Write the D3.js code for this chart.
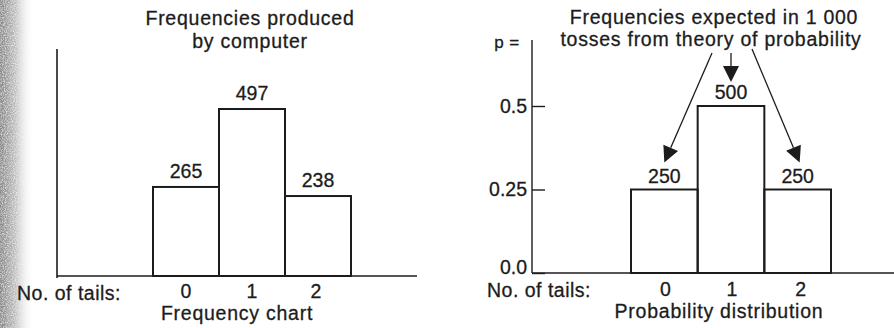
<!DOCTYPE html>
<html>
<head>
<meta charset="utf-8">
<script src="https://cdn.jsdelivr.net/npm/d3@7"></script>
<style>
  html, body { margin: 0; padding: 0; background: #fff; }
  svg { display: block; }
  text { font-family: "Liberation Sans", Arial, sans-serif; fill: #1c1c1c; stroke: #1c1c1c; stroke-width: 0.3px; }
</style>
</head>
<body>
<svg id="chart" width="894" height="328"></svg>
<script>
// Number of tails in two coin tosses
const categories = [0, 1, 2];
// Counts produced by a computer simulation of 1 000 double tosses
const computerFreq = [265, 497, 238];
// Counts expected from probability theory in 1 000 double tosses
const expectedFreq = [250, 500, 250];
const totalTosses = 1000;
// Probability axis ticks and their labels
const probTicks = [0, 0.25, 0.5];
const probTickLabels = ["0.0", "0.25", "0.5"];

const ink = "#1c1c1c";
const fontSize = 19.5;
const svg = d3.select("#chart");

// Worn page edge on the left
const defs = svg.append("defs");
const grad = defs.append("linearGradient").attr("id", "edge").attr("x1", 0).attr("x2", 1);
grad.append("stop").attr("offset", "0%").attr("stop-color", "#858585");
grad.append("stop").attr("offset", "45%").attr("stop-color", "#c0c0c0");
grad.append("stop").attr("offset", "100%").attr("stop-color", "#fff").attr("stop-opacity", 0);
const noise = defs.append("filter").attr("id", "grain");
noise.append("feTurbulence").attr("type", "fractalNoise").attr("baseFrequency", 0.9).attr("numOctaves", 2).attr("result", "n");
noise.append("feColorMatrix").attr("in", "n").attr("type", "matrix")
  .attr("values", "0 0 0 0 1  0 0 0 0 1  0 0 0 0 1  0 0 0 1.4 -0.55").attr("result", "w");
noise.append("feComposite").attr("in", "w").attr("in2", "SourceGraphic").attr("operator", "in").attr("result", "wm");
noise.append("feMerge").call(m => { m.append("feMergeNode").attr("in", "SourceGraphic"); m.append("feMergeNode").attr("in", "wm"); });
svg.append("rect").attr("x", 0).attr("y", 0).attr("width", 34).attr("height", 328)
  .attr("fill", "url(#edge)").attr("filter", "url(#grain)");

function labelText(g, x, y, txt, opts = {}) {
  return g.append("text")
    .attr("x", x).attr("y", y)
    .attr("text-anchor", opts.anchor || "middle")
    .attr("font-size", opts.size || fontSize)
    .attr("letter-spacing", opts.spacing != null ? opts.spacing : 0.75)
    .text(txt);
}

// ---------- Left panel: frequency chart ----------
const left = svg.append("g");
const xL = d3.scaleBand().domain(categories).range([153, 351]).padding(0);
const yL = d3.scaleLinear().domain([0, 500]).range([276, 108]);

left.append("line").attr("x1", 57).attr("x2", 57).attr("y1", 49).attr("y2", 278)
  .attr("stroke", ink).attr("stroke-width", 1.6);
left.append("line").attr("x1", 57).attr("x2", 417).attr("y1", yL(0)).attr("y2", yL(0))
  .attr("stroke", ink).attr("stroke-width", 1.6);

left.selectAll("rect.bar").data(categories).join("rect")
  .attr("class", "bar")
  .attr("x", d => xL(d)).attr("width", xL.bandwidth())
  .attr("y", (d, i) => yL(computerFreq[i]))
  .attr("height", (d, i) => yL(0) - yL(computerFreq[i]))
  .attr("fill", "none").attr("stroke", ink).attr("stroke-width", 2);

left.selectAll("text.val").data(categories).join("text")
  .attr("class", "val")
  .attr("x", d => xL(d) + xL.bandwidth() / 2)
  .attr("y", (d, i) => yL(computerFreq[i]) - 9)
  .attr("text-anchor", "middle").attr("font-size", fontSize)
  .text((d, i) => computerFreq[i]);

left.selectAll("text.cat").data(categories).join("text")
  .attr("class", "cat")
  .attr("x", d => xL(d) + xL.bandwidth() / 2 + [0, 0, -2][d])
  .attr("y", 298)
  .attr("text-anchor", "middle").attr("font-size", fontSize)
  .text(d => d);

labelText(left, 250, 25, "Frequencies produced");
labelText(left, 250, 48, "by computer");
labelText(left, 17, 300, "No. of tails:", { anchor: "start", spacing: 0.5 });
labelText(left, 237, 320, "Frequency chart");

// ---------- Right panel: probability distribution ----------
const right = svg.append("g");
const xR = d3.scaleBand().domain(categories).range([631, 831]).padding(0);
const yR = d3.scaleLinear().domain([0, 0.5]).range([273, 106]);

right.append("line").attr("x1", 532).attr("x2", 532).attr("y1", 40).attr("y2", yR(0))
  .attr("stroke", ink).attr("stroke-width", 1.4);
right.append("line").attr("x1", 532).attr("x2", 894).attr("y1", yR(0)).attr("y2", yR(0))
  .attr("stroke", ink).attr("stroke-width", 1.6);

const axisR = d3.axisLeft(yR)
  .tickValues(probTicks)
  .tickFormat((d, i) => probTickLabels[i])
  .tickSizeInner(-13).tickSizeOuter(0).tickPadding(5);
const gAxis = right.append("g").attr("transform", "translate(532,0)").call(axisR);
gAxis.select(".domain").remove();
gAxis.selectAll(".tick line").attr("stroke", ink).attr("stroke-width", 1.4);
gAxis.selectAll(".tick text")
  .attr("font-family", "'Liberation Sans', Arial, sans-serif")
  .attr("font-size", fontSize).attr("fill", ink)
  .attr("dy", d => d === 0 ? "0.0em" : "0.32em");

right.selectAll("rect.bar").data(categories).join("rect")
  .attr("class", "bar")
  .attr("x", d => xR(d)).attr("width", xR.bandwidth())
  .attr("y", (d, i) => yR(expectedFreq[i] / totalTosses))
  .attr("height", (d, i) => yR(0) - yR(expectedFreq[i] / totalTosses))
  .attr("fill", "none").attr("stroke", ink).attr("stroke-width", 2);

right.selectAll("text.val").data(categories).join("text")
  .attr("class", "val")
  .attr("x", d => xR(d) + xR.bandwidth() / 2)
  .attr("y", (d, i) => yR(expectedFreq[i] / totalTosses) - 7)
  .attr("text-anchor", "middle").attr("font-size", fontSize)
  .text((d, i) => expectedFreq[i]);

right.selectAll("text.cat").data(categories).join("text")
  .attr("class", "cat")
  .attr("x", d => xR(d) + xR.bandwidth() / 2 + [1, 1, 3][d])
  .attr("y", 296)
  .attr("text-anchor", "middle").attr("font-size", fontSize)
  .text(d => d);

labelText(right, 714, 24, "Frequencies expected in 1 000");
labelText(right, 711, 46, "tosses from theory of probability");
labelText(right, 507, 48, "p =", { size: 17, spacing: 0.5 });
labelText(right, 487, 297, "No. of tails:", { anchor: "start", spacing: 0.5 });
labelText(right, 719, 318, "Probability distribution");

// Arrows from the caption down to each expected count
const arrowStarts = [[712, 53], [731, 53], [752, 49]];
categories.forEach((d, i) => {
  const tx = xR(d) + xR.bandwidth() / 2 + [0, 0, 2][i];
  const ty = yR(expectedFreq[i] / totalTosses) - [27, 24, 27][i];
  const [sx, sy] = arrowStarts[i];
  const ang = Math.atan2(ty - sy, tx - sx);
  const len = 16, half = 8;
  const bx = tx - len * Math.cos(ang), by = ty - len * Math.sin(ang);
  right.append("line").attr("x1", sx).attr("y1", sy).attr("x2", bx).attr("y2", by)
    .attr("stroke", ink).attr("stroke-width", 1.3);
  const px = -Math.sin(ang) * half, py = Math.cos(ang) * half;
  right.append("path")
    .attr("d", `M${tx},${ty}L${bx + px},${by + py}L${bx - px},${by - py}Z`)
    .attr("fill", ink);
});
</script>
</body>
</html>
